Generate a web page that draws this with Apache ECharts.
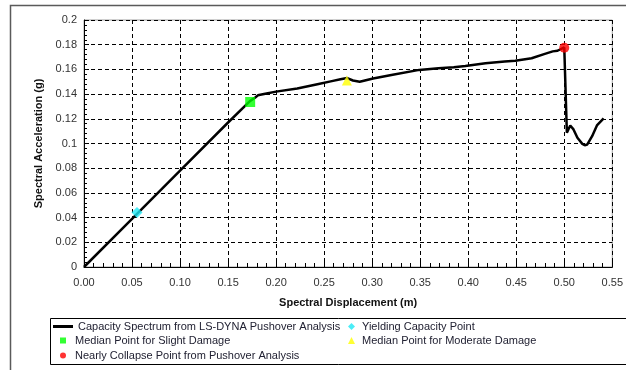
<!DOCTYPE html>
<html>
<head>
<meta charset="utf-8">
<script src="https://cdn.jsdelivr.net/npm/echarts@6/dist/echarts.min.js"></script>
<style>
html,body{margin:0;padding:0;background:#fff;}
#chart{width:626px;height:370px;}
</style>
</head>
<body>
<div id="chart"></div>
<script>
// ---- Data ----
var capacityDisp = [0, 0.05, 0.10, 0.15, 0.173, 0.178, 0.181, 0.19, 0.20, 0.222, 0.243, 0.258, 0.267, 0.274, 0.280, 0.287, 0.301, 0.320, 0.349, 0.369, 0.385, 0.397, 0.418, 0.438, 0.449, 0.466, 0.479, 0.488, 0.493, 0.500, 0.5027, 0.5062, 0.5096, 0.5137, 0.5188, 0.5213, 0.524, 0.529, 0.534, 0.541];
var capacityAcc  = [0, 0.039, 0.078, 0.117, 0.1345, 0.137, 0.139, 0.1405, 0.142, 0.1445, 0.148, 0.1505, 0.152, 0.153, 0.151, 0.150, 0.1526, 0.1555, 0.1596, 0.161, 0.1618, 0.1628, 0.165, 0.1664, 0.167, 0.169, 0.1724, 0.1746, 0.1751, 0.1778, 0.1087, 0.1146, 0.1114, 0.1046, 0.0997, 0.0986, 0.0992, 0.1059, 0.1146, 0.1203];
var slightPoint   = [0.173, 0.1336];
var yieldPoint    = [0.0552, 0.0441];
var moderatePoint = [0.2737, 0.151];
var collapsePoint = [0.500, 0.1775];

var seriesNames = [
  'Capacity Spectrum from LS-DYNA Pushover Analysis',
  'Yielding Capacity Point',
  'Median Point for Slight Damage',
  'Median Point for Moderate Damage',
  'Nearly Collapse Point from Pushover Analysis'
];
var xTitle = 'Spectral Displacement (m)';
var yTitle = 'Spectral Acceleration (g)';

var capacityData = capacityDisp.map(function (d, i) { return [d, capacityAcc[i]]; });

var chart = echarts.init(document.getElementById('chart'), null, {renderer: 'canvas'});
var FONT = 'Liberation Sans, Arial, sans-serif';
var legText = {fontFamily: FONT, fontSize: 11, color: '#222233'};

function leg(name, icon, left, top, w, h, pad) {
  return {
    data: [{name: name, icon: icon}],
    left: left, top: top, itemWidth: w, itemHeight: h, padding: 0,
    selectedMode: false,
    textStyle: Object.assign({padding: [0, 0, 0, pad]}, legText)
  };
}

var option = {
  backgroundColor: '#ffffff',
  animation: false,
  graphic: [
    {type: 'rect', shape: {x: 10.5, y: 5.5, width: 640, height: 420}, style: {fill: null, stroke: '#5a5a5a', lineWidth: 1.5}, z: -1},
    {type: 'rect', shape: {x: 50.5, y: 318.5, width: 600, height: 46}, style: {fill: null, stroke: '#000', lineWidth: 1}, z: -1}
  ],
  grid: {left: 84, right: 8, top: 20, bottom: 103, show: true, borderColor: '#a0a0a0', borderWidth: 1, backgroundColor: '#fff'},
  xAxis: {
    type: 'value', min: 0, max: 0.55, interval: 0.05,
    name: xTitle, nameLocation: 'middle', nameGap: 30,
    nameTextStyle: {fontFamily: FONT, fontSize: 11, fontWeight: 'bold', color: '#111'},
    axisLine: {show: true, lineStyle: {color: '#000', width: 1}},
    axisTick: {show: true, inside: true, length: 5, lineStyle: {color: '#000'}},
    minorTick: {show: true, splitNumber: 5, length: 4, lineStyle: {color: '#000'}},
    axisLabel: {margin: 10, fontFamily: FONT, fontSize: 11, color: '#333', formatter: function (v) { return v.toFixed(2); }},
    splitLine: {show: true, lineStyle: {color: '#000', type: [4, 3], width: 1}}
  },
  yAxis: {
    type: 'value', min: 0, max: 0.2, interval: 0.02,
    name: yTitle, nameLocation: 'middle', nameGap: 37, nameRotate: 90,
    nameTextStyle: {fontFamily: FONT, fontSize: 11, fontWeight: 'bold', color: '#111'},
    axisLine: {show: true, lineStyle: {color: '#000', width: 1}},
    axisTick: {show: true, inside: true, length: 5, lineStyle: {color: '#000'}},
    minorTick: {show: true, splitNumber: 5, length: 3, lineStyle: {color: '#000'}},
    axisLabel: {margin: 7, fontFamily: FONT, fontSize: 11, color: '#333'},
    splitLine: {show: true, lineStyle: {color: '#000', type: [4, 3], width: 1}}
  },
  legend: [
    leg(seriesNames[0], 'rect', 53, 321, 20, 3, 0),
    leg(seriesNames[2], 'rect', 60, 335, 6, 6, 4),
    leg(seriesNames[4], 'circle', 60, 350, 6, 6, 4),
    leg(seriesNames[1], 'diamond', 348, 321, 7, 7, 2),
    leg(seriesNames[3], 'triangle', 348, 335, 7, 7, 2)
  ],
  series: [
    {name: seriesNames[0], type: 'line', data: capacityData, showSymbol: false, symbol: 'none', smooth: false,
     lineStyle: {color: '#000', width: 2.5}, itemStyle: {color: '#000'}, z: 3},
    {name: seriesNames[1], type: 'scatter', data: [yieldPoint], symbol: 'diamond', symbolSize: 11,
     itemStyle: {color: '#1ee8f5'}, z: 5},
    {name: seriesNames[2], type: 'scatter', data: [slightPoint], symbol: 'rect', symbolSize: 10,
     itemStyle: {color: '#00ff00'}, z: 5},
    {name: seriesNames[3], type: 'scatter', data: [moderatePoint], symbol: 'triangle', symbolSize: 10,
     itemStyle: {color: '#ffff00'}, z: 5},
    {name: seriesNames[4], type: 'scatter', data: [collapsePoint], symbol: 'circle', symbolSize: 10,
     itemStyle: {color: '#ff0000'}, z: 5}
  ]
};
chart.setOption(option);
</script>
</body>
</html>
